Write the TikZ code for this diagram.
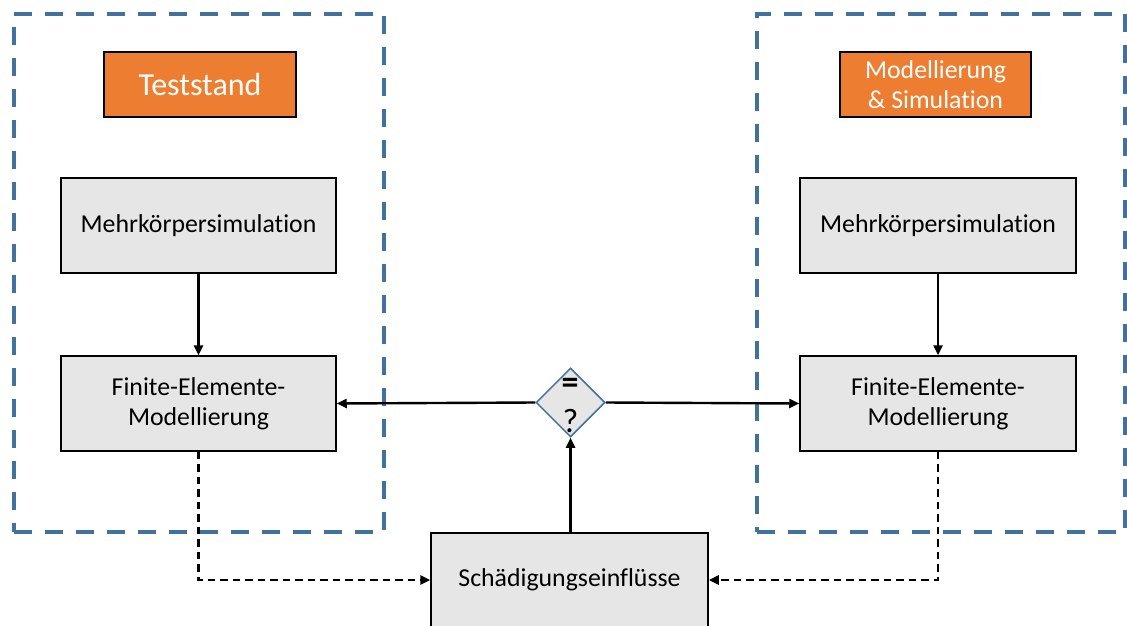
\documentclass[tikz,border=0pt]{standalone}
\usepackage{fontspec}
\setmainfont{Carlito}[Ligatures=NoCommon]
\usetikzlibrary{shapes.geometric,arrows.meta}
\definecolor{boxgray}{HTML}{E7E6E6}
\definecolor{titleorange}{HTML}{ED7D31}
\definecolor{groupblue}{HTML}{41719C}
\tikzset{
  x=1pt, y=-1pt,
  bodytext/.style={font=\fontsize{25.8}{30}\selectfont, align=center},
  stagebox/.style={bodytext, draw=black, line width=1.5pt, fill=boxgray,
    minimum width=275pt, minimum height=95pt, inner sep=0pt},
  titlebox/.style={draw=black, line width=1.5pt, fill=titleorange, text=white,
    minimum width=192pt, minimum height=65pt, inner sep=0pt, align=center},
  groupbox/.style={draw=groupblue, line width=4pt, dash pattern=on 18pt off 13pt,
    minimum width=370pt, minimum height=518pt, inner sep=0pt},
  flow/.style={draw=black, line width=2.4pt, -{Triangle[length=10pt,width=9pt]}},
  feedback/.style={flow, line width=2.6pt, dash pattern=on 7.5pt off 5pt},
  marktext/.style={font=\fontsize{34}{36}\selectfont, inner sep=0pt},
}
\begin{document}
\begin{tikzpicture}
\useasboundingbox (0,0) rectangle (1127,626);
\clip (0,0) rectangle (1127,626);

% dashed groups
\node[groupbox] (grpL) at (199,273) {};
\node[groupbox, minimum width=368pt] (grpR) at (941,273) {};

% group titles
\node[titlebox, font=\fontsize{32}{36}\selectfont] (titleL) at (200,84.5) {Teststand};
\node[titlebox, minimum width=191pt, font=\fontsize{25.8}{30}\selectfont] (titleR) at (935.5,84.5) {Modellierung\\\& Simulation};

% stages
\node[stagebox] (mkL) at (198.5,225.5) {Mehrkörpersimulation};
\node[stagebox] (feL) at (198.5,403.5) {Finite-Elemente-\\Modellierung};
\node[stagebox, minimum width=276pt] (mkR) at (938,225.5) {Mehrkörpersimulation};
\node[stagebox, minimum width=276pt] (feR) at (938,403.5) {Finite-Elemente-\\Modellierung};
\node[stagebox, minimum width=277pt, minimum height=94pt] (sch) at (569.5,580) {Schädigungseinflüsse};

% comparison
\node[diamond, draw=groupblue, line width=1.5pt, fill=boxgray, inner sep=0pt,
  minimum width=69pt, minimum height=69pt, aspect=1] (cmp) at (570.5,402.5) {};
\node[marktext] (eq) at (570,386) {\textbf{=}};
\node[marktext] (qm) at (570.5,421) {?};

% connectors
\draw[flow] (mkL) -- (feL);
\draw[flow] (mkR) -- (feR);
\draw[flow] (cmp.west) -- (feL.east);
\draw[flow] (cmp.east) -- (feR.west);
\draw[flow] (sch.north -| cmp.south) -- (cmp.south);
\draw[feedback] (feL.south) |- (sch.west);
\draw[feedback] (feR.south) |- (sch.east);
\end{tikzpicture}
\end{document}
